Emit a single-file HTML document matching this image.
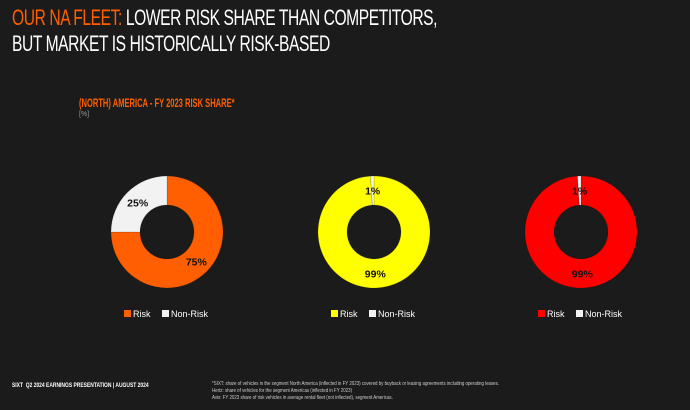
<!DOCTYPE html>
<html><head><meta charset="utf-8"><style>
body{margin:0;background:#1b1b1b;width:690px;height:410px;overflow:hidden;font-family:"Liberation Sans",sans-serif;position:relative}
.t{position:absolute;color:#fff}
</style></head><body>
<div class="t" style="left:12px;top:5px;font-size:22px;line-height:26px;letter-spacing:-0.6px;font-weight:300;transform:scaleX(0.71);transform-origin:left top;white-space:nowrap"><span style="color:#ff5f00">OUR NA FLEET:</span> LOWER RISK SHARE THAN COMPETITORS,<br>BUT MARKET IS HISTORICALLY RISK-BASED</div>
<div class="t" style="left:79px;top:96px;font-size:12px;font-weight:bold;color:#ff5f00;transform:scaleX(0.63);transform-origin:left top;white-space:nowrap">(NORTH) AMERICA - FY 2023 RISK SHARE*</div>
<div class="t" style="left:79px;top:111px;font-size:7px;color:#999">[%]</div>
<svg id="c" width="690" height="410" style="position:absolute;left:0;top:0"></svg>
<div class="t" style="left:12px;top:382px;font-size:6.5px;font-weight:bold;white-space:nowrap;transform:scaleX(0.76);transform-origin:left top"><b>SIXT</b>&nbsp; Q2 2024 EARNINGS PRESENTATION | AUGUST 2024</div>
<div class="t" style="left:212px;top:381px;font-size:5.5px;line-height:7px;color:#ccc;white-space:nowrap;transform:scaleX(0.8);transform-origin:left top">*SIXT: share of vehicles in the segment North America (inflected in FY 2023) covered by buyback or leasing agreements including operating leases.<br>Hertz: share of vehicles for the segment Americas (inflected in FY 2023)<br>Avis: FY 2023 share of risk vehicles in average rental fleet (not inflected), segment Americas.</div>
<script>
const companies=['SIXT','Hertz','Avis'];
const riskShare=[75,99,99];
const nonRiskShare=[25,1,1];
const riskColors=['#ff5f00','#ffff00','#ff0000'];
const centersX=[167,374,581];
const cy=232,R=56,r=27;
const svg=document.getElementById('c');
const NS='http://www.w3.org/2000/svg';
function pt(rad,a){return [cx+rad*Math.sin(a),cy-rad*Math.cos(a)];}
let cx;
function arc(a0,a1){
  const big=(a1-a0)>Math.PI?1:0;
  const p0=pt(R,a0),p1=pt(R,a1),q1=pt(r,a1),q0=pt(r,a0);
  return `M${p0} A${R},${R} 0 ${big} 1 ${p1} L${q1} A${r},${r} 0 ${big} 0 ${q0} Z`;
}
for(let i=0;i<companies.length;i++){
  cx=centersX[i];
  const tot=riskShare[i]+nonRiskShare[i];
  const aRisk=riskShare[i]/tot*2*Math.PI;
  const s1=document.createElementNS(NS,'path');
  s1.setAttribute('d',arc(0,aRisk));s1.setAttribute('fill',riskColors[i]);s1.setAttribute('stroke','rgba(0,0,0,0.12)');
  
  
  svg.appendChild(s1);
  const s2=document.createElementNS(NS,'path');
  s2.setAttribute('d',arc(aRisk,2*Math.PI));s2.setAttribute('fill','#f2f2f2');s2.setAttribute('stroke','rgba(0,0,0,0.12)');
  
  
  svg.appendChild(s2);
  const vals=[riskShare[i],nonRiskShare[i]];
  const mids=[aRisk/2,(aRisk+2*Math.PI)/2];
  for(let k=0;k<2;k++){
    const m=pt((R+r)/2,mids[k]);
    const t=document.createElementNS(NS,'text');
    t.setAttribute('x',m[0]);t.setAttribute('y',m[1]+4);
    t.setAttribute('text-anchor','middle');t.setAttribute('font-size','10.5');t.setAttribute('font-weight','bold');
    t.setAttribute('fill','#111');
    t.textContent=vals[k]+'%';
    
    
    svg.appendChild(t);
  }
  const lx=cx-43;
  const items=[['Risk',riskColors[i],0],['Non-Risk','#f2f2f2',38]];
  for(const it of items){
    const sq=document.createElementNS(NS,'rect');
    sq.setAttribute('x',lx+it[2]);sq.setAttribute('y',310);sq.setAttribute('width',7);sq.setAttribute('height',7);sq.setAttribute('fill',it[1]);
    
    
    svg.appendChild(sq);
    const lt=document.createElementNS(NS,'text');
    lt.setAttribute('x',lx+it[2]+9);lt.setAttribute('y',317);lt.setAttribute('font-size','9');lt.setAttribute('fill','#fff');
    lt.textContent=it[0];
    
    
    svg.appendChild(lt);
  }
}
</script>
</body></html>
